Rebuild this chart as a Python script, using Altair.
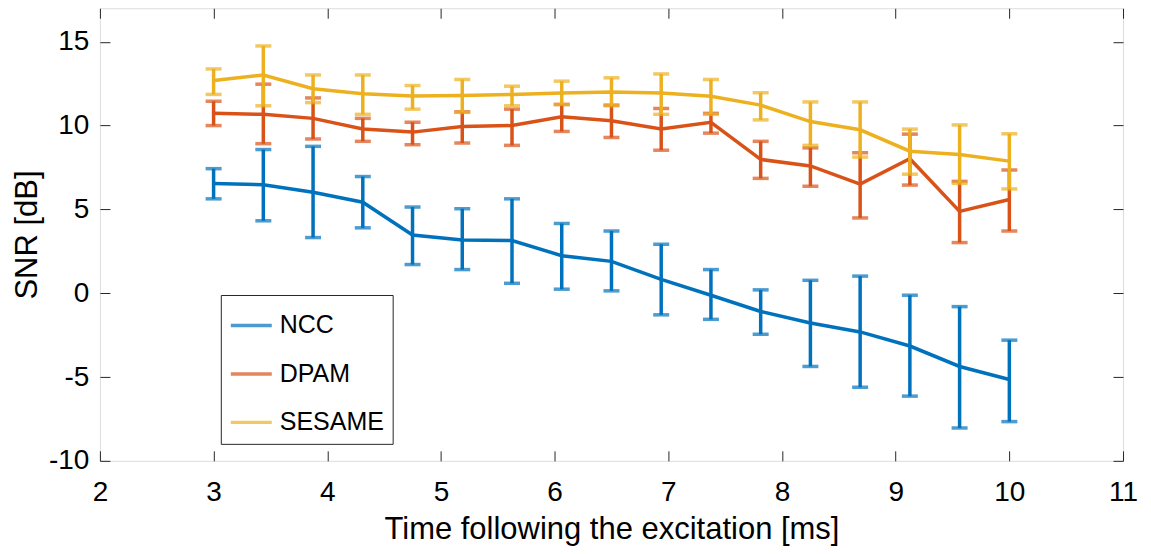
import altair as alt
import pandas as pd

# ---- data ----
time_ms = [3.0, 3.4375, 3.875, 4.3125, 4.75, 5.1875, 5.625, 6.0625, 6.5,
           6.9375, 7.375, 7.8125, 8.25, 8.6875, 9.125, 9.5625, 10.0]

ncc_mean = [6.55, 6.47, 6.02, 5.43, 3.47, 3.18, 3.14, 2.24, 1.90, 0.82, -0.12,
            -1.09, -1.78, -2.31, -3.15, -4.37, -5.15]
ncc_low = [5.63, 4.32, 3.32, 3.90, 1.71, 1.41, 0.59, 0.24, 0.14, -1.29, -1.56,
           -2.45, -4.37, -5.61, -6.14, -8.04, -7.66]
ncc_high = [7.43, 8.57, 8.76, 6.96, 5.14, 5.04, 5.63, 4.16, 3.71, 2.92, 1.41,
            0.20, 0.77, 1.02, -0.12, -0.80, -2.80]

dpam_mean = [10.73, 10.67, 10.43, 9.80, 9.61, 9.94, 10.00, 10.53, 10.29, 9.80,
             10.20, 7.98, 7.59, 6.51, 8.02, 4.88, 5.59]
dpam_low = [10.00, 8.92, 9.20, 9.06, 8.86, 8.96, 8.82, 9.65, 9.29, 8.53, 9.55,
            6.85, 6.38, 4.49, 6.45, 3.02, 3.71]
dpam_high = [11.45, 12.47, 11.65, 10.43, 10.20, 10.82, 10.98, 11.26, 11.22,
             11.02, 10.73, 9.06, 8.67, 8.38, 9.49, 6.67, 7.35]

sesame_mean = [12.69, 13.02, 12.20, 11.90, 11.76, 11.80, 11.86, 11.94, 12.00,
               11.94, 11.75, 11.22, 10.24, 9.75, 8.47, 8.28, 7.88]
sesame_low = [11.86, 11.18, 11.37, 10.67, 10.98, 10.79, 11.18, 11.26, 11.18,
              10.67, 10.67, 10.34, 8.82, 8.12, 7.10, 6.55, 6.22]
sesame_high = [13.38, 14.75, 13.02, 13.02, 12.39, 12.75, 12.35, 12.65, 12.85,
               13.08, 12.75, 11.96, 11.41, 11.41, 9.79, 10.04, 9.51]

series_names = ["NCC", "DPAM", "SESAME"]
series_colors = ["#0072BD", "#D95319", "#EDB120"]
x_ticks = [2, 3, 4, 5, 6, 7, 8, 9, 10, 11]
y_ticks = [-10, -5, 0, 5, 10, 15]

rows = []
for name, m, lo, hi in [("NCC", ncc_mean, ncc_low, ncc_high),
                        ("DPAM", dpam_mean, dpam_low, dpam_high),
                        ("SESAME", sesame_mean, sesame_low, sesame_high)]:
    for t, a, b, c in zip(time_ms, m, lo, hi):
        rows.append({"series": name, "t": t, "snr": a, "lo": b, "hi": c})
df = pd.DataFrame(rows)

FONT = "Liberation Sans"
W, H = 1024, 453
TICK_FS, TITLE_FS, LEG_FS = 28, 31, 25

xscale = alt.Scale(domain=[2, 11], nice=False, zero=False)
yscale = alt.Scale(domain=[-10, 17], nice=False, zero=False)
cscale = alt.Scale(domain=series_names, range=series_colors)

x_axis = alt.Axis(orient="bottom", offset=-10, tickSize=10, domain=False, grid=False,
                  values=x_ticks, labelFlush=False, labelOverlap=False,
                  labelExpr="datum.value + ''",
                  labelFontSize=TICK_FS, labelFont=FONT, labelColor="black",
                  labelPadding=18, tickColor="#262626",
                  title="Time following the excitation [ms]",
                  titleFontSize=TITLE_FS, titleFont=FONT, titleFontWeight="normal",
                  titleColor="black", titlePadding=8)
y_axis = alt.Axis(orient="left", offset=-10, tickSize=10, domain=False, grid=False,
                  values=y_ticks, labelFlush=False, labelOverlap=False,
                  labelExpr="datum.value + ''",
                  labelFontSize=TICK_FS, labelFont=FONT, labelColor="black",
                  labelPadding=11, tickColor="#262626", title="SNR [dB]",
                  titleFontSize=TITLE_FS, titleFont=FONT, titleFontWeight="normal",
                  titleColor="black", titlePadding=5)

legend = alt.Legend(orient="none", legendX=121, legendY=287, direction="vertical",
                    title=None, symbolType="stroke", symbolSize=1681,
                    symbolStrokeWidth=3.5, labelFontSize=LEG_FS, labelFont=FONT,
                    labelColor="black", labelOffset=6, padding=8, rowPadding=12.5,
                    strokeColor="#262626", fillColor="white", cornerRadius=0)

series_layers = []
for name in series_names:
    base = alt.Chart(df).transform_filter(alt.datum.series == name)
    enc_x = alt.X("t:Q", scale=xscale, axis=x_axis)
    enc_c = alt.Color("series:N", scale=cscale, legend=legend)
    line = base.mark_line(strokeWidth=3.5).encode(
        x=enc_x, y=alt.Y("snr:Q", scale=yscale, axis=y_axis), color=enc_c)
    bars = base.mark_rule(strokeWidth=3.5).encode(
        x=enc_x, y=alt.Y("lo:Q", scale=yscale, axis=y_axis), y2="hi:Q", color=enc_c)
    cap_lo = base.mark_tick(orient="horizontal", size=16, thickness=3.5).encode(
        x=enc_x, y=alt.Y("lo:Q", scale=yscale, axis=y_axis), color=enc_c)
    cap_hi = base.mark_tick(orient="horizontal", size=16, thickness=3.5).encode(
        x=enc_x, y=alt.Y("hi:Q", scale=yscale, axis=y_axis), color=enc_c)
    series_layers += [line, bars, cap_lo, cap_hi]

inner = alt.layer(*series_layers)

axis_layer = alt.Chart(df).mark_point(opacity=0).encode(
    x=alt.X("t:Q", scale=xscale,
            axis=alt.Axis(orient="top", offset=-10, tickSize=10, domain=False,
                          grid=False, labels=False, title=None, values=x_ticks,
                          tickColor="#262626")),
    y=alt.Y("snr:Q", scale=yscale,
            axis=alt.Axis(orient="right", offset=-10, tickSize=10, domain=False,
                          grid=False, labels=False, title=None, values=y_ticks,
                          tickColor="#262626")),
)

chart = alt.layer(inner, axis_layer).resolve_axis(
    x="independent", y="independent"
).properties(
    width=W, height=H,
    autosize=alt.AutoSizeParams(type="none"),
    padding={"left": 92, "top": 0, "right": 20, "bottom": 90},
).configure_view(
    stroke="#262626", strokeWidth=1
).configure(background="white")

chart.save("out.html", embed_options={"renderer": "svg", "actions": False})
